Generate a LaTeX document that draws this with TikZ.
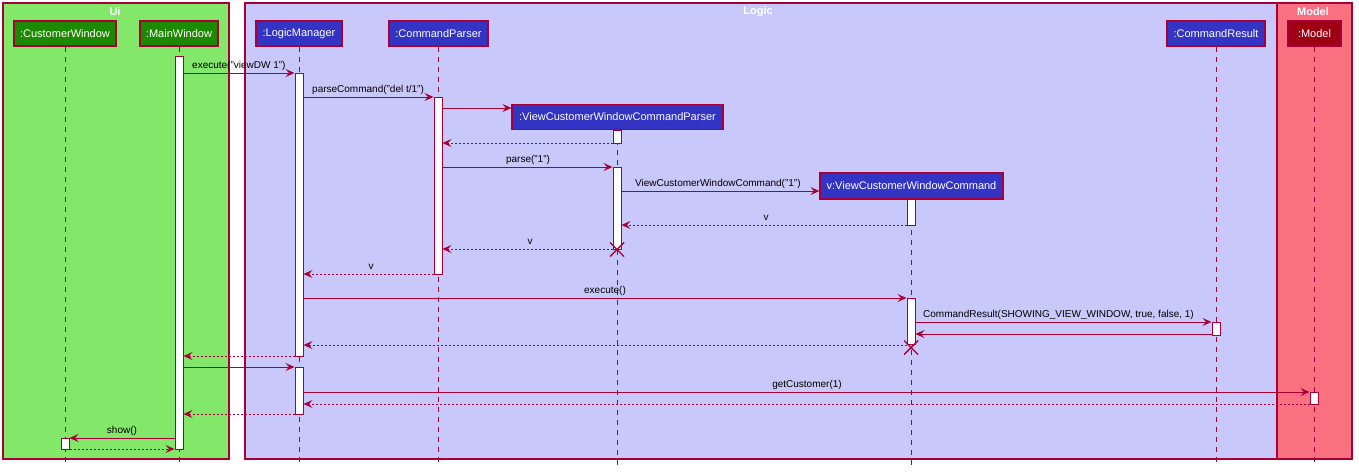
\documentclass[tikz,border=0pt]{standalone}
\usepackage{fontspec}
\setmainfont{Liberation Sans}
\usetikzlibrary{arrows.meta}
\definecolor{bc}{HTML}{A80036}
\definecolor{uiT}{HTML}{83E769}
\definecolor{ui}{HTML}{1D8900}
\definecolor{lgT}{HTML}{C8C8FA}
\definecolor{lg}{HTML}{3333C4}
\definecolor{mdT}{HTML}{F97181}
\definecolor{md}{HTML}{9D0012}
\newcommand\pfont{\fontsize{11}{13}\selectfont}
\newcommand\mfont{\fontsize{10}{12}\selectfont}
\newcommand\tfont{\fontsize{11}{13}\selectfont\bfseries}
\newcommand\actbar[4]{\pgfmathsetmacro\ymid{(#3+#4)/2}\pgfmathsetmacro\hgt{#4-#3}\node[actbox, minimum height=\hgt pt] (#1) at (#2,\ymid) {};}
\begin{document}
\begin{tikzpicture}[x=1pt,y=-1pt,
  grp/.style={draw=bc, line width=1.2pt},
  gtitle/.style={text=white, font=\tfont, inner sep=0pt},
  part/.style={draw=bc, line width=1.2pt, minimum height=25pt, inner sep=0pt, text=white, font=\pfont},
  life/.style={draw=bc, line width=0.8pt, dash pattern=on 5pt off 5pt},
  actbox/.style={draw=bc, fill=white, line width=1pt, minimum width=8pt, inner sep=0pt},
  msg/.style={draw=bc, line width=0.9pt, -{Stealth[length=9pt,width=8pt,inset=3.5pt]}},
  ret/.style={msg, dash pattern=on 2pt off 2pt},
  lbl/.style={font=\mfont, inner sep=0pt, text=black},
  xmark/.style={draw=bc, line width=1.4pt}]
\useasboundingbox (0,0) rectangle (1359,472);
% group boxes
\path[grp, fill=uiT] (3,3) rectangle (229,459);
\path[grp, fill=lgT] (245,3) rectangle (1277,459);
\path[grp, fill=mdT] (1277,3) rectangle (1352,459);
\node[gtitle] (tUi) at (115,12) {Ui};
\node[gtitle] (tLogic) at (758,12) {Logic};
\node[gtitle] (tModel) at (1313,12) {Model};
% participants
\node[part, fill=ui, minimum width=102pt] (CW) at (65,33.5) {:CustomerWindow};
\node[part, fill=ui, minimum width=78pt] (MW) at (179,33.5) {:MainWindow};
\node[part, fill=lg, minimum width=86pt] (LM) at (299,33.5) {:LogicManager};
\node[part, fill=lg, minimum width=99pt] (CP) at (438.5,33.5) {:CommandParser};
\node[part, fill=lg, minimum width=98pt] (CR) at (1216,33.5) {:CommandResult};
\node[part, fill=md, minimum width=53pt] (MD) at (1314.5,33.5) {:Model};
\node[part, fill=lg, minimum width=211pt] (VP) at (617.5,117) {:ViewCustomerWindowCommandParser};
\node[part, fill=lg, minimum width=183pt, minimum height=26pt] (VC) at (911.5,186) {v:ViewCustomerWindowCommand};
% lifelines
\draw[life] (CW.south) -- (CW.south |- 0,465);
\draw[life] (MW.south) -- (MW.south |- 0,465);
\draw[life] (LM.south) -- (LM.south |- 0,465);
\draw[life] (CP.south) -- (CP.south |- 0,465);
\draw[life] (CR.south) -- (CR.south |- 0,465);
\draw[life] (MD.south) -- (MD.south |- 0,465);
\draw[life] (VP.south) -- (VP.south |- 0,465);
\draw[life] (VC.south -| 911,0) -- (911,465);
% activation bars
\actbar{aMW}{179}{56}{449}
\actbar{aLM1}{299}{73}{356}
\actbar{aLM2}{299}{367}{414}
\actbar{aCP}{438}{97}{274}
\actbar{aVP1}{617}{130}{143}
\actbar{aVP2}{617}{167}{249}
\actbar{aVC1}{911}{199}{225}
\actbar{aVC2}{911}{298}{344}
\actbar{aCR}{1216}{322}{335}
\actbar{aMD}{1314}{392}{404}
\actbar{aCW}{65}{438}{449}
% destroy marks
\draw[xmark] (aVP2.south) ++(-7,-7) -- ++(14,14) ++(0,-14) -- ++(-14,14);
\draw[xmark] (aVC2.south) ++(-7,-4) -- ++(14,14) ++(0,-14) -- ++(-14,14);
% messages
\draw[msg] (aMW.east |- 0,73) -- (aLM1.west |- 0,73);
\node[lbl, anchor=west] (m1) at (192,66) {execute("viewDW 1")};
\draw[msg] (aLM1.east |- 0,97) -- (aCP.west |- 0,97);
\node[lbl, anchor=west] (m2) at (312,90) {parseCommand("del t/1")};
\draw[msg] (aCP.east |- 0,108) -- (VP.west |- 0,108);
\draw[ret] (aVP1.west |- 0,143) -- (aCP.east |- 0,143);
\draw[msg] (aCP.east |- 0,167) -- (aVP2.west |- 0,167);
\node[lbl] (m5) at (528,160) {parse("1")};
\draw[msg] (aVP2.east |- 0,191) -- (VC.west |- 0,191);
\node[lbl, anchor=west] (m6) at (635,184) {ViewCustomerWindowCommand("1")};
\draw[ret] (aVC1.west |- 0,225) -- (aVP2.east |- 0,225);
\node[lbl] (m7) at (766,218) {v};
\draw[ret] (aVP2.west |- 0,249) -- (aCP.east |- 0,249);
\node[lbl] (m8) at (530,242) {v};
\draw[ret] (aCP.west |- 0,274) -- (aLM1.east |- 0,274);
\node[lbl] (m9) at (371,267) {v};
\draw[msg] (aLM1.east |- 0,298) -- (aVC2.west |- 0,298);
\node[lbl] (m10) at (605,291) {execute()};
\draw[msg] (aVC2.east |- 0,322) -- (aCR.west |- 0,322);
\node[lbl, anchor=west] (m11) at (923,315) {CommandResult(SHOWING\_VIEW\_WINDOW, true, false, 1)};
\draw[msg] (aCR.west |- 0,334) -- (aVC2.east |- 0,334);
\draw[ret] (aVC2.west |- 0,345) -- (aLM1.east |- 0,345);
\draw[ret] (aLM1.west |- 0,356) -- (aMW.east |- 0,356);
\draw[msg] (aMW.east |- 0,367) -- (aLM2.west |- 0,367);
\draw[msg] (aLM2.east |- 0,392) -- (aMD.west |- 0,392);
\node[lbl] (m16) at (807,385) {getCustomer(1)};
\draw[ret] (aMD.west |- 0,404) -- (aLM2.east |- 0,404);
\draw[ret] (aLM2.west |- 0,414) -- (aMW.east |- 0,414);
\draw[msg] (aMW.west |- 0,438) -- (aCW.east |- 0,438);
\node[lbl] (m19) at (122,431) {show()};
\draw[ret] (aCW.east |- 0,449) -- (aMW.west |- 0,449);
\end{tikzpicture}
\end{document}
